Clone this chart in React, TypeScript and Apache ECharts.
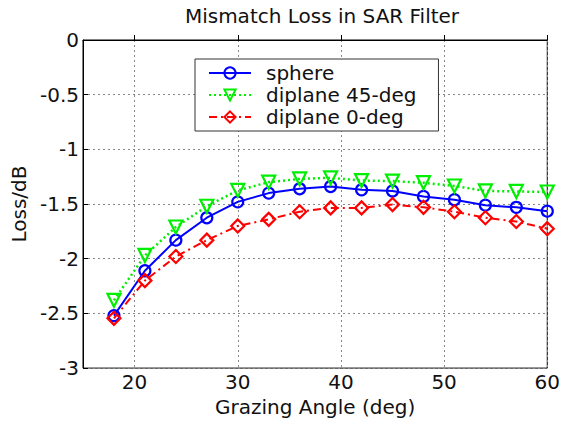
import React, { useEffect, useRef } from "react";
import * as echarts from "echarts";

const angles = [18, 21, 24, 27, 30, 33, 36, 39, 42, 45, 48, 51, 54, 57, 60];
const sphere = [-2.52, -2.11, -1.83, -1.625, -1.48, -1.4, -1.36, -1.34, -1.37, -1.38, -1.43, -1.46, -1.51, -1.53, -1.565];
const diplane45 = [-2.38, -1.97, -1.71, -1.52, -1.375, -1.3, -1.27, -1.26, -1.285, -1.29, -1.305, -1.335, -1.38, -1.385, -1.39];
const diplane0 = [-2.545, -2.2, -1.98, -1.83, -1.7, -1.64, -1.57, -1.535, -1.535, -1.505, -1.53, -1.57, -1.625, -1.66, -1.725];
const xTicks = [20, 30, 40, 50, 60];
const seriesNames = ["sphere", "diplane 45-deg", "diplane 0-deg"];

const FONT = "DejaVu Sans";
const FS = 20;

export default function App() {
  const ref = useRef<HTMLDivElement>(null);
  useEffect(() => {
    if (!ref.current) return;
    const chart = echarts.init(ref.current, undefined, { renderer: "svg" });
    const mk = (name: string, data: number[], color: string, symbol: string, rotate: number, size: number, lineType: any, width: number) => ({
      name,
      type: "line",
      data: angles.map((a, i) => [a, data[i]]),
      symbol,
      symbolRotate: rotate,
      symbolSize: size,
      showAllSymbol: true,
      lineStyle: { color, width, type: lineType },
      itemStyle: { color: "rgba(255,255,255,0)", borderColor: color, borderWidth: 2.2 },
      emphasis: { disabled: true },
    });
    chart.setOption({
      animation: false,
      backgroundColor: "#fff",
      title: {
        text: "Mismatch Loss in SAR Filter",
        left: 317,
        top: 1,
        textAlign: "center",
        textStyle: { fontFamily: FONT, fontSize: FS, fontWeight: "normal", color: "#111" },
      },
      grid: { left: 83, right: 13, top: 40, bottom: 50, show: true, borderColor: "#000", borderWidth: 1, backgroundColor: "#fff" },
      legend: {
        data: seriesNames,
        orient: "vertical",
        left: 195,
        top: 59,
        itemWidth: 42,
        itemHeight: 14,
        itemGap: 2,
        padding: [4, 22, 4, 13],
        backgroundColor: "#fff",
        borderColor: "#333",
        borderWidth: 1,
        textStyle: { fontFamily: FONT, fontSize: FS, color: "#111", padding: [0, 0, 0, 10] },
      },
      xAxis: {
        type: "value",
        min: 15,
        max: 60,
        interval: 5,
        name: "Grazing Angle (deg)",
        nameLocation: "middle",
        nameGap: 24,
        nameTextStyle: { fontFamily: FONT, fontSize: FS, color: "#111" },
        axisLine: { lineStyle: { color: "#000", width: 1 } },
        axisTick: { inside: true, length: 5, customValues: xTicks, lineStyle: { color: "#000" } },
        axisLabel: {
          customValues: xTicks,
          fontFamily: FONT,
          fontSize: FS,
          color: "#111",
          margin: 4,
          formatter: (v: number) => (v % 10 === 0 ? String(v) : ""),
        },
        splitLine: { show: true, lineStyle: { color: "#888", type: [2, 3], width: 1 } },
      },
      yAxis: {
        type: "value",
        min: -3,
        max: 0,
        interval: 0.5,
        name: "Loss/dB",
        nameLocation: "middle",
        nameRotate: 90,
        nameGap: 50,
        nameTextStyle: { fontFamily: FONT, fontSize: FS, color: "#111" },
        axisLine: { show: true, lineStyle: { color: "#000", width: 1 } },
        axisTick: { show: true, inside: true, length: 5, lineStyle: { color: "#000" } },
        axisLabel: { fontFamily: FONT, fontSize: FS, color: "#111", margin: 4 },
        splitLine: { show: true, lineStyle: { color: "#888", type: [2, 3], width: 1 } },
      },
      series: [
        mk("sphere", sphere, "#0000ff", "circle", 0, 11, "solid", 2),
        mk("diplane 45-deg", diplane45, "#00ee00", "triangle", 180, 13, [2, 3], 2.5),
        mk("diplane 0-deg", diplane0, "#ff0000", "diamond", 0, 13, [8, 4, 2, 4], 2),
      ],
    });
    return () => chart.dispose();
  }, []);
  return <div ref={ref} style={{ position: "fixed", left: 0, top: 0, width: 563, height: 422 }} />;
}
